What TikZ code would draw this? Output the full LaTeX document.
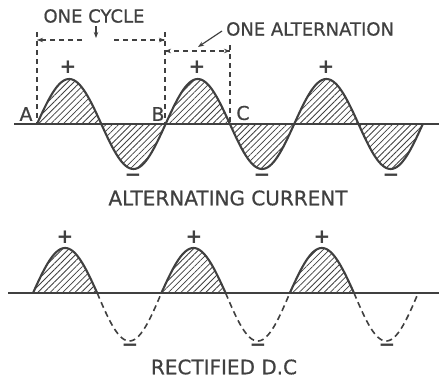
\documentclass[tikz,border=0pt]{standalone}
\usepackage{fontspec}
\setmainfont{DejaVu Sans}
\newfontfamily\labfont{DejaVu Sans}[FakeBold=0.6]
\usetikzlibrary{patterns.meta,arrows.meta,calc}
\definecolor{ink}{HTML}{404040}
\begin{document}
\begin{tikzpicture}[x=1pt,y=-1pt,
  wave/.style={line width=2.1pt, line join=round, line cap=round, draw=ink},
  hatch/.style={pattern={Lines[angle=45,distance=4.4pt,line width=0.8pt]}, pattern color=ink},
  axisline/.style={line width=1.9pt, draw=ink},
  dimline/.style={dash pattern=on 5pt off 4pt, line width=1.2pt, draw=ink},
  dashwave/.style={dash pattern=on 6pt off 4pt, line width=1.6pt, draw=ink},
  lab/.style={font=\labfont\fontsize{19}{20}\selectfont, text=ink, inner sep=0pt},
  sign/.style={font=\fontsize{20}{20}\selectfont\bfseries, text=ink, inner sep=0pt},
  tip/.style={-{Stealth[length=6pt,width=4.5pt]}, line width=1.2pt, draw=ink}]
\fill[white] (0,0) rectangle (439,380);
\useasboundingbox (0,0) rectangle (439,380);
% ---------- alternating current ----------
\coordinate (tl) at (14,124);
\coordinate (tr) at (439,124);
\fill[hatch] plot[domain=0:1080,samples=241] ({37+\x/180*64.3},{124-45*sin(\x)}) -- cycle;
\draw[wave] plot[domain=0:1080,samples=241] ({37+\x/180*64.3},{124-45*sin(\x)});
\draw[axisline] (tl) -- (tr);
% signs
\foreach \px/\nm in {68/p1,197/p2,326/p3}{\node[sign] (t\nm) at (\px,67) {+};}
\foreach \px/\nm in {133/m1,262/m2,391/m3}{\node[sign] (t\nm) at (\px,178) {−};}
% letters
\node[lab] (A) at (26,114) {A};
\node[lab] (B) at (158,114) {B};
\node[lab] (C) at (243,113) {C};
% dimension lines
\coordinate (Atop) at (37,32);
\coordinate (Abot) at (37,124);
\coordinate (Btop) at (165,32);
\coordinate (Bbot) at (165,124);
\coordinate (Ctop) at (230,45);
\coordinate (Cbot) at (230,124);
\draw[dimline] (Atop) -- (Abot);
\draw[dimline] (Btop) -- (Bbot);
\draw[dimline] (Ctop) -- (Cbot);
\coordinate (cycL) at (37,40);
\coordinate (cycR) at (165,40);
\coordinate (cycML) at (82,40);
\coordinate (cycMR) at (114,40);
\draw[dimline] (cycML) -- (cycL);
\draw[tip] ($(cycL)+(4,0)$) -- (cycL);
\draw[dimline] (cycMR) -- (cycR);
\draw[tip] ($(cycR)+(-4,0)$) -- (cycR);
\node[lab, font=\labfont\fontsize{18}{20}\selectfont] (cycle) at (94,16) {ONE CYCLE};
\coordinate (cycdown) at (96,38);
\draw[tip] (96,26) -- (cycdown);
\coordinate (altL) at (165,51);
\coordinate (altR) at (230,51);
\draw[dimline] (altL) -- (altR);
\draw[tip] ($(altL)+(4,0)$) -- (altL);
\draw[tip] ($(altR)+(-4,0)$) -- (altR);
\node[lab, anchor=west, font=\labfont\fontsize{18}{20}\selectfont] (alt) at (226,29) {ONE ALTERNATION};
\coordinate (altpt) at (198,47);
\draw[tip] (222,31) -- (altpt);
\node[lab, font=\labfont\fontsize{20}{22}\selectfont] (ac) at (228,198) {ALTERNATING CURRENT};
% ---------- rectified DC ----------
\coordinate (bl) at (8,293);
\coordinate (br) at (439,293);
\foreach \k in {0,2,4}{
  \fill[hatch] plot[domain={\k*180}:{(\k+1)*180},samples=61] ({33+\x/180*64.2},{293-45*sin(\x)}) -- cycle;
  \draw[wave] plot[domain={\k*180}:{(\k+1)*180},samples=61] ({33+\x/180*64.2},{293-45*sin(\x)});
  \draw[dashwave] plot[domain={(\k+1)*180}:{(\k+2)*180},samples=61] ({33+\x/180*64.2},{293-48*sin(\x)});
}
\draw[axisline] (bl) -- (br);
\foreach \px/\nm in {65/p1,194/p2,322/p3}{\node[sign] (b\nm) at (\px,237) {+};}
\foreach \px/\nm in {130/m1,258/m2,387/m3}{\node[sign] (b\nm) at (\px,348) {−};}
\node[lab, font=\labfont\fontsize{20}{22}\selectfont] (dc) at (224,367) {RECTIFIED D.C};
\end{tikzpicture}
\end{document}
